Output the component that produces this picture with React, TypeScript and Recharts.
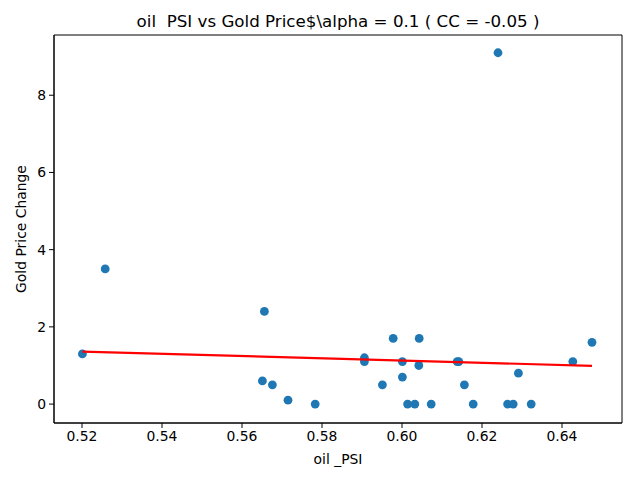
import { ScatterChart, Scatter, XAxis, YAxis, ReferenceArea } from "recharts";

// oil PSI vs gold price change
const OIL_PSI = [
  0.5201, 0.5258, 0.5656, 0.5651, 0.5676, 0.5715, 0.5783, 0.5906, 0.5906,
  0.5951, 0.5978, 0.6001, 0.6001, 0.6014, 0.6032, 0.6043, 0.6042, 0.6073,
  0.6138, 0.6142, 0.6156, 0.6178, 0.624, 0.6264, 0.6278, 0.6291, 0.6323,
  0.6427, 0.6475,
];
const GOLD_CHANGE = [
  1.3, 3.5, 2.4, 0.6, 0.5, 0.1, 0.0, 1.2, 1.1,
  0.5, 1.7, 1.1, 0.7, 0.0, 0.0, 1.7, 1.0, 0.0,
  1.1, 1.1, 0.5, 0.0, 9.1, 0.0, 0.0, 0.8, 0.0,
  1.1, 1.6,
];

// fitted line (red), end points
const FIT_X = [0.5201, 0.6475];
const FIT_Y = [1.36, 0.99];

const X_TICKS = [0.52, 0.54, 0.56, 0.58, 0.6, 0.62, 0.64];
const Y_TICKS = [0, 2, 4, 6, 8];

const X_DOMAIN = [0.513, 0.655];
const Y_DOMAIN = [-0.49, 9.56];

const points = OIL_PSI.map((x, i) => ({ x, y: GOLD_CHANGE[i] }));
const fit = FIT_X.map((x, i) => ({ x, y: FIT_Y[i] }));

const FONT = "DejaVu Sans, sans-serif";
const tickStyle = { fill: "#000", fontSize: 13.9, fontFamily: FONT };

function Dot(props: any) {
  return <circle cx={props.cx} cy={props.cy} r={4.4} fill="#1f77b4" />;
}

export default function App() {
  return (
    <div style={{ position: "absolute", left: 0, top: 0, width: 640, height: 480, background: "#fff" }}>
      <div
        style={{
          position: "absolute",
          left: 54,
          width: 568,
          top: 11,
          textAlign: "center",
          fontFamily: FONT,
          fontSize: 16.7,
          color: "#000",
          whiteSpace: "pre",
        }}
      >
        {"oil  PSI vs Gold Price$\\alpha = 0.1 ( CC = -0.05 )"}
      </div>
      <ScatterChart width={640} height={480} margin={{ top: 35, right: 18, bottom: 0, left: 0 }}>
        <XAxis
          type="number"
          dataKey="x"
          domain={X_DOMAIN}
          ticks={X_TICKS}
          tickFormatter={(v: number) => v.toFixed(2)}
          allowDataOverflow
          height={57}
          tickSize={5}
          tickMargin={3}
          tick={tickStyle}
          tickLine={{ stroke: "#000" }}
          axisLine={{ stroke: "#000" }}
          label={{ value: "oil _PSI", position: "insideBottom", offset: 16, fill: "#000", fontSize: 13.9, fontFamily: FONT }}
        />
        <YAxis
          type="number"
          dataKey="y"
          domain={Y_DOMAIN}
          ticks={Y_TICKS}
          allowDataOverflow
          width={54}
          tickSize={5}
          tickMargin={3}
          tick={tickStyle}
          tickLine={{ stroke: "#000" }}
          axisLine={{ stroke: "#000" }}
          label={{
            content: ({ viewBox }: any) => {
              const cx = viewBox.x + 21;
              const cy = viewBox.y + viewBox.height / 2;
              return (
                <text
                  x={cx}
                  y={cy}
                  transform={`rotate(-90 ${cx} ${cy})`}
                  textAnchor="middle"
                  dominantBaseline="central"
                  fill="#000"
                  fontSize={13.9}
                  fontFamily={FONT}
                >
                  Gold Price Change
                </text>
              );
            },
          }}
        />
        <ReferenceArea
          x1={X_DOMAIN[0]}
          x2={X_DOMAIN[1]}
          y1={Y_DOMAIN[0]}
          y2={Y_DOMAIN[1]}
          fill="none"
          stroke="#000"
          strokeWidth={1}
          ifOverflow="visible"
        />
        <Scatter data={points} shape={Dot} isAnimationActive={false} />
        <Scatter
          data={fit}
          line={{ stroke: "#ff0000", strokeWidth: 2.2 }}
          shape={() => <g />}
          isAnimationActive={false}
        />
      </ScatterChart>
    </div>
  );
}
